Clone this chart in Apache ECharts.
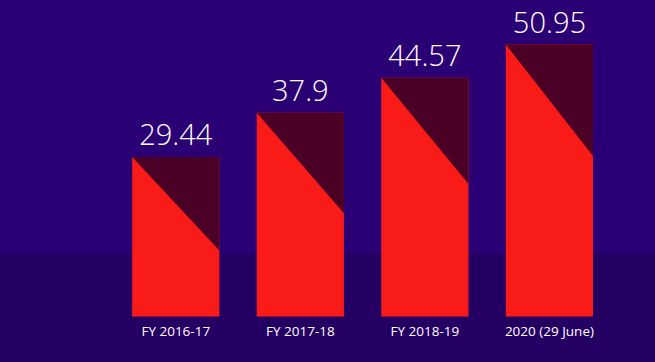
<!DOCTYPE html>
<html>
<head>
<meta charset="utf-8">
<script src="https://cdn.jsdelivr.net/npm/echarts@6/dist/echarts.min.js"></script>
<style>
html,body{margin:0;padding:0;background:#2b0075;}
#chart{width:655px;height:362px;}
</style>
</head>
<body>
<div id="chart"></div>
<script>
const categories = ['FY 2016-17', 'FY 2017-18', 'FY 2018-19', '2020 (29 June)'];
const values = [29.44, 37.9, 44.57, 50.95];
const valueLabels = ['29.44', '37.9', '44.57', '50.95'];

const chart = echarts.init(document.getElementById('chart'), null, {renderer: 'svg'});

chart.setOption({
  backgroundColor: '#2b0075',
  animation: false,
  graphic: [{
    type: 'rect', z: -10, silent: true,
    shape: {x: 0, y: 253, width: 655, height: 109},
    style: {fill: '#250063'}
  }],
  grid: {left: 113.5, right: 43.3, top: 0, bottom: 45.5},
  xAxis: {
    type: 'category',
    data: categories,
    axisLine: {show: false},
    axisTick: {show: false},
    axisLabel: {color: '#ffffff', fontFamily: 'Open Sans', fontWeight: 400, fontSize: 13.5, margin: 7}
  },
  yAxis: {
    type: 'value', min: -1.1, max: 59.47,
    show: false, splitLine: {show: false}
  },
  series: [{
    type: 'custom',
    data: values.map((v, i) => [i, v]),
    encode: {x: 0, y: 1},
    renderItem: function (params, api) {
      const i = api.value(0);
      const v = api.value(1);
      const top = api.coord([i, v]);
      const base = api.coord([i, -1.1]);
      const bw = api.size([1, 0])[0] * 0.7;
      const x0 = top[0] - bw / 2;
      const x1 = top[0] + bw / 2;
      const h = base[1] - top[1];
      const drop = 68 + 0.16 * h;
      return {
        type: 'group',
        children: [
          {type: 'rect', shape: {x: x0, y: top[1], width: bw, height: h}, style: {fill: '#f81b17'}},
          {type: 'polygon', shape: {points: [[x0, top[1]], [x1, top[1]], [x1, top[1] + drop]]}, style: {fill: '#4b0026'}},
          {type: 'text', style: {text: valueLabels[params.dataIndex], x: top[0], y: top[1] - 9,
            align: 'center', verticalAlign: 'bottom', fill: '#ffffff', fontFamily: 'Open Sans', fontWeight: 300, fontSize: 29}}
        ]
      };
    }
  }]
});
</script>
</body>
</html>
